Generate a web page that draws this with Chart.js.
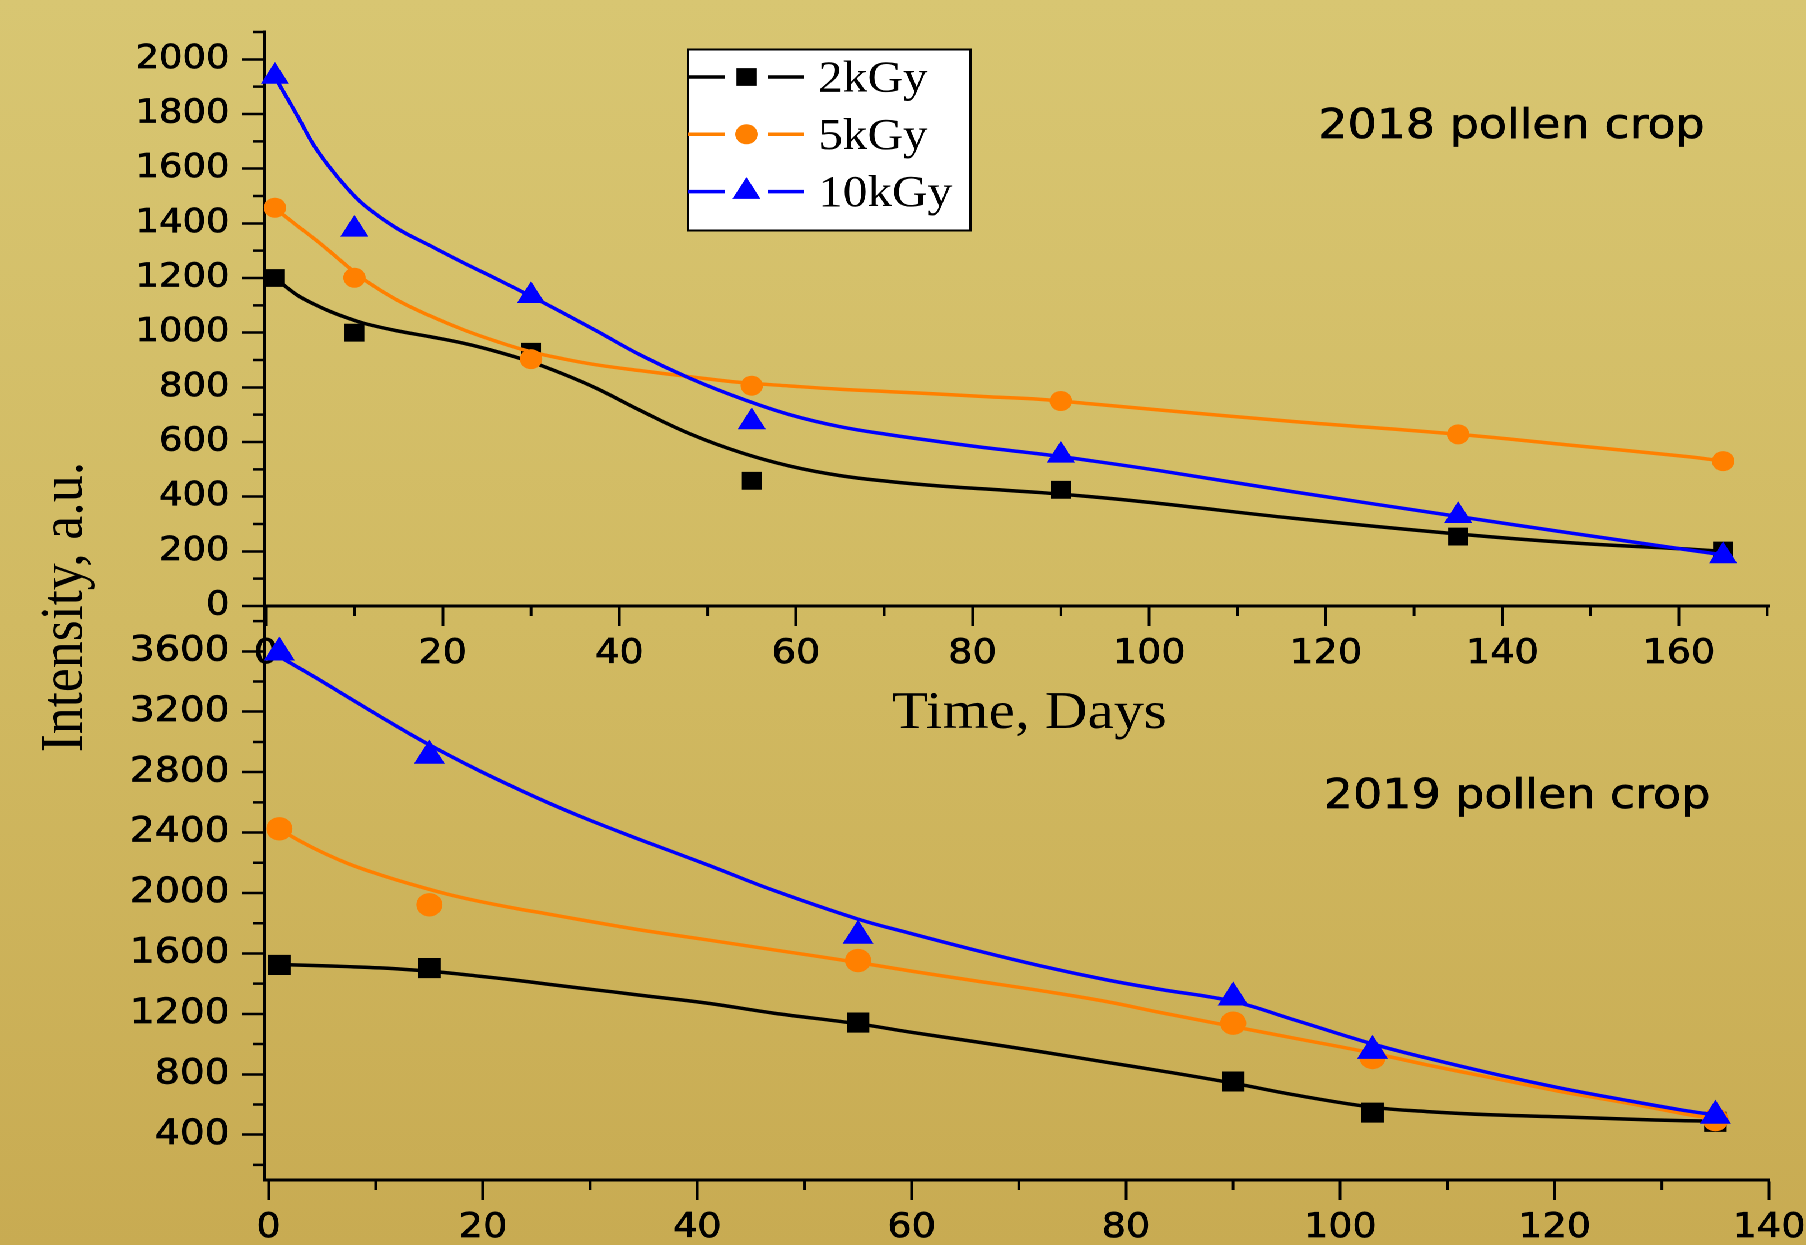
<!DOCTYPE html>
<html>
<head>
    <meta charset="UTF-8">
    <title>Intensity vs time - 2018 / 2019 pollen crop</title>
    <script src="https://cdn.jsdelivr.net/npm/chart.js"></script>
    <style>
        html, body { margin: 0; padding: 0; width: 1806px; height: 1245px; overflow: hidden; }
        body { background: linear-gradient(180deg, #d8c672 0%, #d1ba62 50%, #c8ab52 100%); }
        /* the original figure is slightly stretched sideways */
        #wrap { position: absolute; left: 0; top: 0; width: 1612px; height: 1245px; transform: scaleX(1.12); transform-origin: 0 0; }
        #wrap canvas { position: absolute; left: 0; top: 0; }
    </style>
</head>
<body>
<div id="wrap">
    <canvas id="crop2018" width="1612" height="1245"></canvas>
    <canvas id="crop2019" width="1612" height="1245"></canvas>
</div>

<script>
// series
const seriesNames = ['2kGy', '5kGy', '10kGy'];
const seriesColors = ['#000000', '#ff8000', '#0000ff'];
const markerStyles = ['rect', 'circle', 'triangle'];

// 2018 pollen crop - measured points
const days2018 = [1, 10, 30, 55, 90, 135, 165];
const pts2k_2018 = [1200, 1000, 930, 458, 425, 254, 203];
const pts5k_2018 = [1457, 1201, 903, 806, 750, 628, 530];
const pts10k_2018 = [1937, 1378, 1135, 673, 551, 330, 183];

// 2018 fitted curves
const fitDays2018 = [1, 3.5, 5.4, 7.3, 9.2, 11.1, 14.8, 18.6, 22.4, 26.2, 29.9, 33.7, 37.5, 42.4, 48, 53.7, 59.3, 65, 70.7, 76.3, 82, 87.7, 93.3, 101.2, 116.3, 135.1, 147.5, 161.1, 165];
const fit2k_2018 = [1200, 1138, 1105, 1077, 1054, 1034, 1007, 985, 961, 930, 894, 848, 795, 715, 630, 562, 512, 477, 455, 439, 427, 415, 400, 375, 321, 263, 232, 208, 200];
const fit5k_2018 = [1455, 1392, 1345, 1295, 1243, 1194, 1120, 1061, 1010, 967, 931, 904, 882, 861, 839, 818, 805, 793, 784, 775, 765, 756, 740, 717, 675, 628, 589, 546, 530];
const fit10k_2018 = [1935, 1796, 1686, 1601, 1528, 1467, 1382, 1318, 1255, 1195, 1135, 1071, 1005, 918, 833, 760, 700, 656, 626, 601, 577, 556, 532, 495, 418, 327, 268, 205, 187];

// 2019 pollen crop - measured points
const days2019 = [1, 15, 55, 90, 103, 135];
const pts2k_2019 = [1524, 1503, 1142, 752, 546, 485];
const pts5k_2019 = [2425, 1922, 1553, 1138, 911, 500];
const pts10k_2019 = [3592, 2909, 1717, 1308, 955, 525];

// 2019 fitted curves
const fitDays2019 = [1, 4.2, 7.3, 10.4, 13.5, 16.6, 19.7, 22.9, 26, 29.1, 32.2, 34.7, 40.9, 47.1, 55, 59.6, 65.8, 72, 78.2, 83.2, 90, 95.7, 103, 108.1, 114.3, 120.6, 126.8, 131.8, 135];
const fit2k_2019 = [1527, 1520, 1513, 1504, 1490, 1472, 1449, 1424, 1397, 1370, 1345, 1323, 1271, 1205, 1134, 1082, 1017, 950, 879, 823, 741, 664, 582, 553, 531, 518, 503, 493, 490];
const fit5k_2019 = [2420, 2297, 2198, 2121, 2054, 1994, 1944, 1900, 1862, 1823, 1785, 1755, 1690, 1624, 1540, 1487, 1420, 1354, 1281, 1209, 1116, 1039, 940, 862, 774, 685, 609, 542, 505];
const fit10k_2019 = [3565, 3434, 3301, 3169, 3040, 2920, 2808, 2700, 2600, 2507, 2420, 2352, 2188, 2018, 1827, 1738, 1624, 1518, 1425, 1362, 1282, 1160, 1001, 907, 803, 708, 626, 564, 530];

// tick labels
const xTicks2018 = [0, 20, 40, 60, 80, 100, 120, 140, 160];
const xMinor2018 = [10, 30, 50, 70, 90, 110, 130, 150, 170];
const yTicks2018 = [0, 200, 400, 600, 800, 1000, 1200, 1400, 1600, 1800, 2000];
const yMinor2018 = [100, 300, 500, 700, 900, 1100, 1300, 1500, 1700, 1900, 2100];
const xTicks2019 = [0, 20, 40, 60, 80, 100, 120, 140];
const xMinor2019 = [10, 30, 50, 70, 90, 110, 130];
const yTicks2019 = [400, 800, 1200, 1600, 2000, 2400, 2800, 3200, 3600];
const yMinor2019 = [200, 600, 1000, 1400, 1800, 2200, 2600, 3000, 3400, 3800];

Chart.defaults.font.family = 'DejaVu Sans';
Chart.defaults.color = '#000';

function drawMarker(ctx, style, x, y, r, color) {
    ctx.fillStyle = color;
    ctx.beginPath();
    if (style === 'rect') {
        const h = r * Math.SQRT1_2;
        ctx.rect(x - h, y - h, 2 * h, 2 * h);
    } else if (style === 'circle') {
        ctx.arc(x, y, r, 0, 2 * Math.PI);
    } else {
        ctx.moveTo(x, y - r);
        ctx.lineTo(x + r * Math.sin(2 * Math.PI / 3), y - r * Math.cos(2 * Math.PI / 3));
        ctx.lineTo(x + r * Math.sin(4 * Math.PI / 3), y - r * Math.cos(4 * Math.PI / 3));
    }
    ctx.closePath();
    ctx.fill();
}

// short ticks between the labelled ones
const minorTicks = {
    id: 'minorTicks',
    afterDraw(chart, args, o) {
        const ctx = chart.ctx, xs = chart.scales.x, ys = chart.scales.y;
        ctx.save();
        ctx.strokeStyle = '#000';
        ctx.lineWidth = 2.5;
        ctx.beginPath();
        o.x.forEach(v => {
            const px = xs.getPixelForValue(v);
            ctx.moveTo(px, xs.top); ctx.lineTo(px, xs.top + 10);
        });
        o.y.forEach(v => {
            const py = ys.getPixelForValue(v);
            ctx.moveTo(ys.right - 10, py); ctx.lineTo(ys.right, py);
        });
        ctx.stroke();
        ctx.restore();
    }
};

// free text: panel labels and axis titles
const panelText = {
    id: 'panelText',
    afterDraw(chart, args, o) {
        const ctx = chart.ctx;
        o.items.forEach(t => {
            ctx.save();
            ctx.fillStyle = '#000';
            ctx.strokeStyle = '#000';
            ctx.lineWidth = t.stroke || 0;
            ctx.font = t.font;
            ctx.textAlign = t.align || 'left';
            ctx.textBaseline = 'alphabetic';
            ctx.translate(t.x, t.y);
            if (t.rotate) ctx.rotate(t.rotate);
            if (t.stroke) ctx.strokeText(t.text, 0, 0);
            ctx.fillText(t.text, 0, 0);
            ctx.restore();
        });
    }
};

// boxed legend, line - marker - line
const boxLegend = {
    id: 'boxLegend',
    afterDraw(chart, args, o) {
        if (!o.show) return;
        const ctx = chart.ctx;
        ctx.save();
        ctx.fillStyle = '#fff';
        ctx.fillRect(o.x, o.y, o.w, o.h);
        ctx.strokeStyle = '#000';
        ctx.lineWidth = 2;
        ctx.strokeRect(o.x, o.y, o.w, o.h);
        seriesNames.forEach((name, s) => {
            const cy = o.y + 27.5 + s * 57.3;
            ctx.strokeStyle = seriesColors[s];
            ctx.lineWidth = 3.5;
            ctx.beginPath();
            ctx.moveTo(o.x, cy); ctx.lineTo(o.x + 33, cy);
            ctx.moveTo(o.x + 71, cy); ctx.lineTo(o.x + 103, cy);
            ctx.stroke();
            drawMarker(ctx, markerStyles[s], o.x + 52, cy, o.radii[s], seriesColors[s]);
            ctx.fillStyle = '#000';
            ctx.font = '44px "Liberation Serif"';
            ctx.textBaseline = 'alphabetic';
            ctx.fillText(name, o.x + 116, cy + 14.5);
        });
        ctx.restore();
    }
};

function buildDatasets(days, pts, fitDays, fits, radii) {
    const ds = [];
    [0, 1, 2].forEach(s => {
        ds.push({
            label: seriesNames[s] + ' fit',
            data: fitDays.map((d, i) => ({ x: d, y: fits[s][i] })),
            borderColor: seriesColors[s],
            borderWidth: 3.5,
            pointRadius: 0,
            fill: false,
            tension: 0.4,
            order: 6 - 2 * s
        });
        ds.push({
            label: seriesNames[s],
            data: days.map((d, i) => ({ x: d, y: pts[s][i] })),
            showLine: false,
            pointStyle: markerStyles[s],
            pointRadius: radii[s],
            pointBackgroundColor: seriesColors[s],
            pointBorderWidth: 0,
            clip: false,
            order: 5 - 2 * s
        });
    });
    return ds;
}

function xAxis(min, max, majors) {
    return {
        type: 'linear', min: min, max: max,
        afterBuildTicks: s => { s.ticks = majors.map(v => ({ value: v })); },
        afterFit: s => { s.height = 60; s.paddingLeft = 0; s.paddingRight = 0; },
        ticks: { font: { size: 34 }, color: '#000', padding: 8, maxRotation: 0, autoSkip: false,
                 textStrokeColor: '#000', textStrokeWidth: 0.7, callback: v => String(v) },
        grid: { drawOnChartArea: false, tickLength: 20, tickWidth: 2.5, tickColor: '#000' },
        border: { color: '#000', width: 3 }
    };
}

function yAxis(min, max, majors, size) {
    return {
        type: 'linear', min: min, max: max,
        afterBuildTicks: s => { s.ticks = majors.map(v => ({ value: v })); },
        afterFit: s => { s.width = 236; s.paddingTop = 0; s.paddingBottom = 0; },
        ticks: { font: { size: size }, color: '#000', padding: 11, autoSkip: false,
                 textStrokeColor: '#000', textStrokeWidth: 0.7, callback: v => String(v) },
        grid: { drawOnChartArea: false, tickLength: 20, tickWidth: 2.5, tickColor: '#000' },
        border: { color: '#000', width: 3 }
    };
}

const chart2018 = new Chart(document.getElementById('crop2018'), {
    type: 'line',
    data: {
        datasets: buildDatasets(days2018, [pts2k_2018, pts5k_2018, pts10k_2018],
            fitDays2018, [fit2k_2018, fit5k_2018, fit10k_2018], [12.6, 10, 14.5])
    },
    options: {
        responsive: false,
        animation: false,
        devicePixelRatio: 2,
        events: [],
        layout: { padding: { left: 0, top: 32, right: 32.5, bottom: 579 } },
        scales: {
            x: xAxis(-0.2, 170.2, xTicks2018),
            y: yAxis(0, 2100, yTicks2018, 33)
        },
        plugins: {
            legend: { display: false },
            tooltip: { enabled: false },
            minorTicks: { x: xMinor2018, y: yMinor2018 },
            boxLegend: { show: true, x: 614.5, y: 49.5, w: 252, h: 181, radii: [12.6, 10, 14.5] },
            panelText: { items: [
                { text: '2018 pollen crop', font: '41px "DejaVu Sans"', x: 1177, y: 138, stroke: 0.7 },
                { text: 'Time, Days', font: '53px "Liberation Serif"', x: 919, y: 728, align: 'center' }
            ] }
        }
    },
    plugins: [minorTicks, boxLegend, panelText]
});

const chart2019 = new Chart(document.getElementById('crop2019'), {
    type: 'line',
    data: {
        datasets: buildDatasets(days2019, [pts2k_2019, pts5k_2019, pts10k_2019],
            fitDays2019, [fit2k_2019, fit5k_2019, fit10k_2019], [14.2, 11.7, 16])
    },
    options: {
        responsive: false,
        animation: false,
        devicePixelRatio: 2,
        events: [],
        layout: { padding: { left: 0, top: 606, right: 32.5, bottom: 5 } },
        scales: {
            x: xAxis(-0.4, 140, xTicks2019),
            y: yAxis(100, 3900, yTicks2019, 35)
        },
        plugins: {
            legend: { display: false },
            tooltip: { enabled: false },
            minorTicks: { x: xMinor2019, y: yMinor2019 },
            boxLegend: { show: false },
            panelText: { items: [
                { text: '2019 pollen crop', font: '41px "DejaVu Sans"', x: 1182, y: 808, stroke: 0.7 },
                { text: 'Intensity, a.u.', font: '54px "Liberation Serif"', x: 73, y: 607, align: 'center', rotate: -Math.PI / 2 }
            ] }
        }
    },
    plugins: [minorTicks, boxLegend, panelText]
});
</script>
</body>
</html>
